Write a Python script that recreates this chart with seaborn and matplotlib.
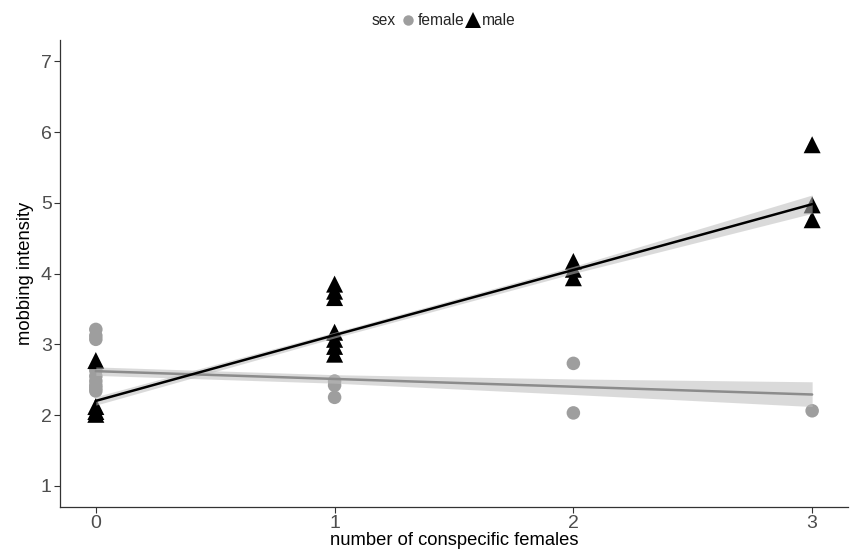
import numpy as np
import pandas as pd
import matplotlib
matplotlib.use("Agg")
import matplotlib.pyplot as plt
import seaborn as sns
from matplotlib.lines import Line2D

# --- data ------------------------------------------------------------------
female_x = [0, 0, 0, 0, 0, 0, 0, 0, 0, 1, 1, 1, 2, 2, 3]
female_y = [3.21, 3.12, 3.07, 2.63, 2.55, 2.48, 2.42, 2.38, 2.34,
            2.48, 2.42, 2.25, 2.73, 2.03, 2.06]

male_x = [0, 0, 0, 0, 1, 1, 1, 1, 1, 1, 1, 2, 2, 2, 3, 3, 3]
male_y = [2.77, 2.12, 2.05, 2.01, 3.85, 3.75, 3.66, 3.17, 3.07, 2.97, 2.86,
          4.17, 4.06, 3.94, 5.82, 4.97, 4.76]

# model predictions (line + confidence band)
fit_x = [0, 1, 2, 3]
female_fit = [2.62, 2.51, 2.40, 2.29]
female_lo = [2.56, 2.45, 2.29, 2.12]
female_hi = [2.68, 2.57, 2.51, 2.47]
male_fit = [2.20, 3.13, 4.05, 4.98]
male_lo = [2.14, 3.09, 4.00, 4.85]
male_hi = [2.26, 3.17, 4.10, 5.11]

sex_labels = ["female", "male"]
pal = {"female": "#9e9e9e", "male": "#000000"}

df = pd.DataFrame({
    "females": female_x + male_x,
    "mobbing": female_y + male_y,
    "sex": ["female"] * len(female_x) + ["male"] * len(male_x),
})

sns.set_theme(style="ticks")
plt.rcParams["font.family"] = ["Liberation Sans", "DejaVu Sans"]

fig = plt.figure(figsize=(8.5, 5.52), dpi=100)
ax = fig.add_axes([0.0706, 0.0815, 0.927, 0.846])

sns.scatterplot(data=df, x="females", y="mobbing", hue="sex", style="sex",
                size="sex", hue_order=sex_labels, style_order=sex_labels,
                size_order=sex_labels, sizes={"female": 95, "male": 150},
                palette=pal, markers={"female": "o", "male": "^"},
                linewidth=0, legend=False, ax=ax, zorder=2)

# confidence bands and fitted lines on top of the points
ax.fill_between(fit_x, female_lo, female_hi, color="#bdbdbd", alpha=0.55,
                linewidth=0, zorder=3)
ax.fill_between(fit_x, male_lo, male_hi, color="#bdbdbd", alpha=0.55,
                linewidth=0, zorder=3)
sns.lineplot(x=fit_x, y=female_fit, color="#8c8c8c", linewidth=1.8, ax=ax,
             zorder=4)
sns.lineplot(x=fit_x, y=male_fit, color="black", linewidth=1.8, ax=ax,
             zorder=4)

ax.set_xlim(-0.15, 3.15)
ax.set_ylim(0.7, 7.3)
ax.set_xticks([0, 1, 2, 3])
ax.set_yticks([1, 2, 3, 4, 5, 6, 7])
ax.set_xlabel("number of conspecific females", fontsize=13.2, color="black",
              labelpad=0)
ax.set_ylabel("mobbing intensity", fontsize=13.2, color="black", labelpad=5)
ax.tick_params(axis="both", labelsize=14, labelcolor="#4d4d4d",
               color="#333333", length=4, width=0.8, pad=2)
sns.despine(ax=ax)
for side in ["left", "bottom"]:
    ax.spines[side].set_color("#333333")
    ax.spines[side].set_linewidth(0.9)

# legend on top: "sex ● female ▲ male"
handles = [
    Line2D([], [], linestyle="", marker="o", markersize=7.5,
           markerfacecolor=pal["female"], markeredgewidth=0),
    Line2D([], [], linestyle="", marker="^", markersize=11,
           markerfacecolor=pal["male"], markeredgewidth=0),
]
fig.legend(handles, sex_labels, loc="center left",
           bbox_to_anchor=(401 / 850, 0.962), ncol=2, frameon=False,
           fontsize=11.2, handlelength=0.9, handletextpad=0.15,
           columnspacing=0.1, borderpad=0, borderaxespad=0)
fig.text(372 / 850, 0.962, "sex", fontsize=11.2, ha="left", va="center")

fig.savefig("out.png", dpi=100)
